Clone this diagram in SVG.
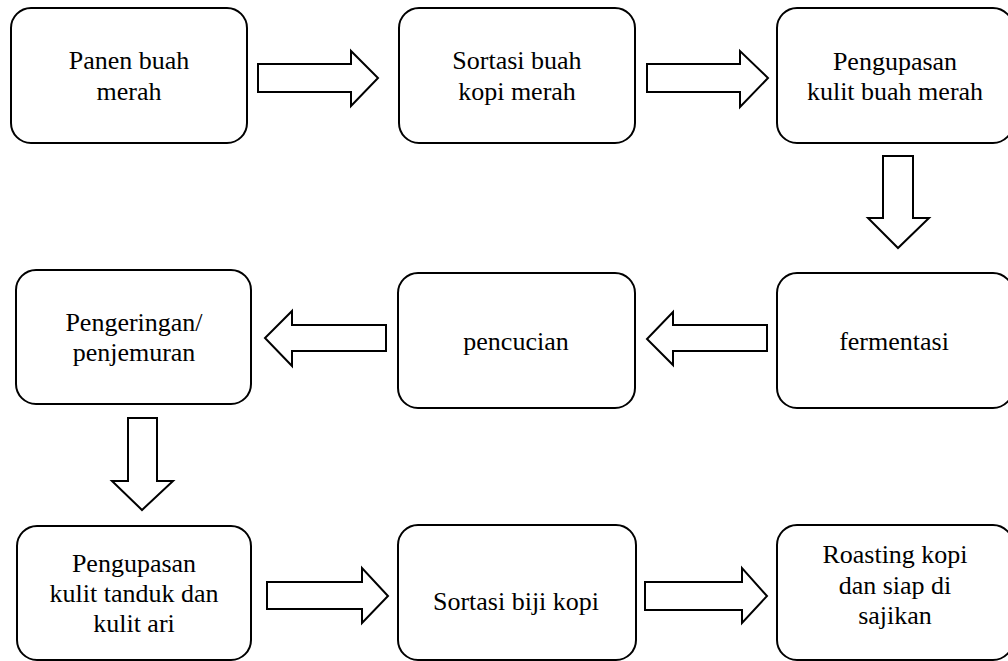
<svg xmlns="http://www.w3.org/2000/svg" width="1008" height="661" viewBox="0 0 1008 661">
<defs>
<style>
.box{fill:#fff;stroke:#000;stroke-width:2}
.arr{fill:#fff;stroke:#000;stroke-width:2}
</style>
</defs>
<rect width="1008" height="661" fill="#fff"/>
<g id="connectors">
<polygon class="arr" points="258,64 351,64 351,51 378,78 351,106 351,92 258,92"/>
<polygon class="arr" points="647,64 740,64 740,51 768,78 740,107 740,92 647,92"/>
<polygon class="arr" points="883,156 913,156 913,218 929,218 898,248 868,218 883,218"/>
<polygon class="arr" points="386,325 292,325 292,311 265,338 292,366 292,351 386,351"/>
<polygon class="arr" points="767,325 673,325 673,312 647,339 673,365 673,351 767,351"/>
<polygon class="arr" points="128,418 157,418 157,481 173,481 142,510 112,481 128,481"/>
<polygon class="arr" points="267,582 362,582 362,568 388,596 362,623 362,609 267,609"/>
<polygon class="arr" points="645,582 742,582 742,568 767,596 742,623 742,610 645,610"/>
</g>
<g id="n1"><rect class="box" x="11" y="8" width="236" height="135" rx="20"/><text font-family="Times New Roman" font-size="26" text-anchor="middle" x="129" y="69">Panen buah</text><text font-family="Times New Roman" font-size="26" text-anchor="middle" x="129" y="100">merah</text></g>
<g id="n2"><rect class="box" x="399" y="8" width="236" height="135" rx="20"/><text font-family="Times New Roman" font-size="26" text-anchor="middle" x="517" y="69">Sortasi buah</text><text font-family="Times New Roman" font-size="26" text-anchor="middle" x="517" y="100">kopi merah</text></g>
<g id="n3"><rect class="box" x="777" y="8" width="236" height="135" rx="20"/><text font-family="Times New Roman" font-size="26" text-anchor="middle" x="895" y="70">Pengupasan</text><text font-family="Times New Roman" font-size="26" text-anchor="middle" x="895" y="100">kulit buah merah</text></g>
<g id="n4"><rect class="box" x="16" y="270" width="235" height="134" rx="20"/><text font-family="Times New Roman" font-size="26" text-anchor="middle" x="134" y="331">Pengeringan/</text><text font-family="Times New Roman" font-size="26" text-anchor="middle" x="134" y="361">penjemuran</text></g>
<g id="n5"><rect class="box" x="398" y="273" width="237" height="135" rx="20"/><text font-family="Times New Roman" font-size="26" text-anchor="middle" x="516" y="350">pencucian</text></g>
<g id="n6"><rect class="box" x="777" y="273" width="236" height="135" rx="20"/><text font-family="Times New Roman" font-size="26" text-anchor="middle" x="894" y="350">fermentasi</text></g>
<g id="n7"><rect class="box" x="17" y="526" width="234" height="134" rx="20"/><text font-family="Times New Roman" font-size="26" text-anchor="middle" x="134" y="572">Pengupasan</text><text font-family="Times New Roman" font-size="26" text-anchor="middle" x="134" y="602">kulit tanduk dan</text><text font-family="Times New Roman" font-size="26" text-anchor="middle" x="134" y="632">kulit ari</text></g>
<g id="n8"><rect class="box" x="398" y="525" width="238" height="135" rx="20"/><text font-family="Times New Roman" font-size="26" text-anchor="middle" x="516" y="610">Sortasi biji kopi</text></g>
<g id="n9"><rect class="box" x="777" y="525" width="236" height="135" rx="20"/><text font-family="Times New Roman" font-size="26" text-anchor="middle" x="895" y="563">Roasting kopi</text><text font-family="Times New Roman" font-size="26" text-anchor="middle" x="895" y="594">dan siap di</text><text font-family="Times New Roman" font-size="26" text-anchor="middle" x="895" y="624">sajikan</text></g>
</svg>
